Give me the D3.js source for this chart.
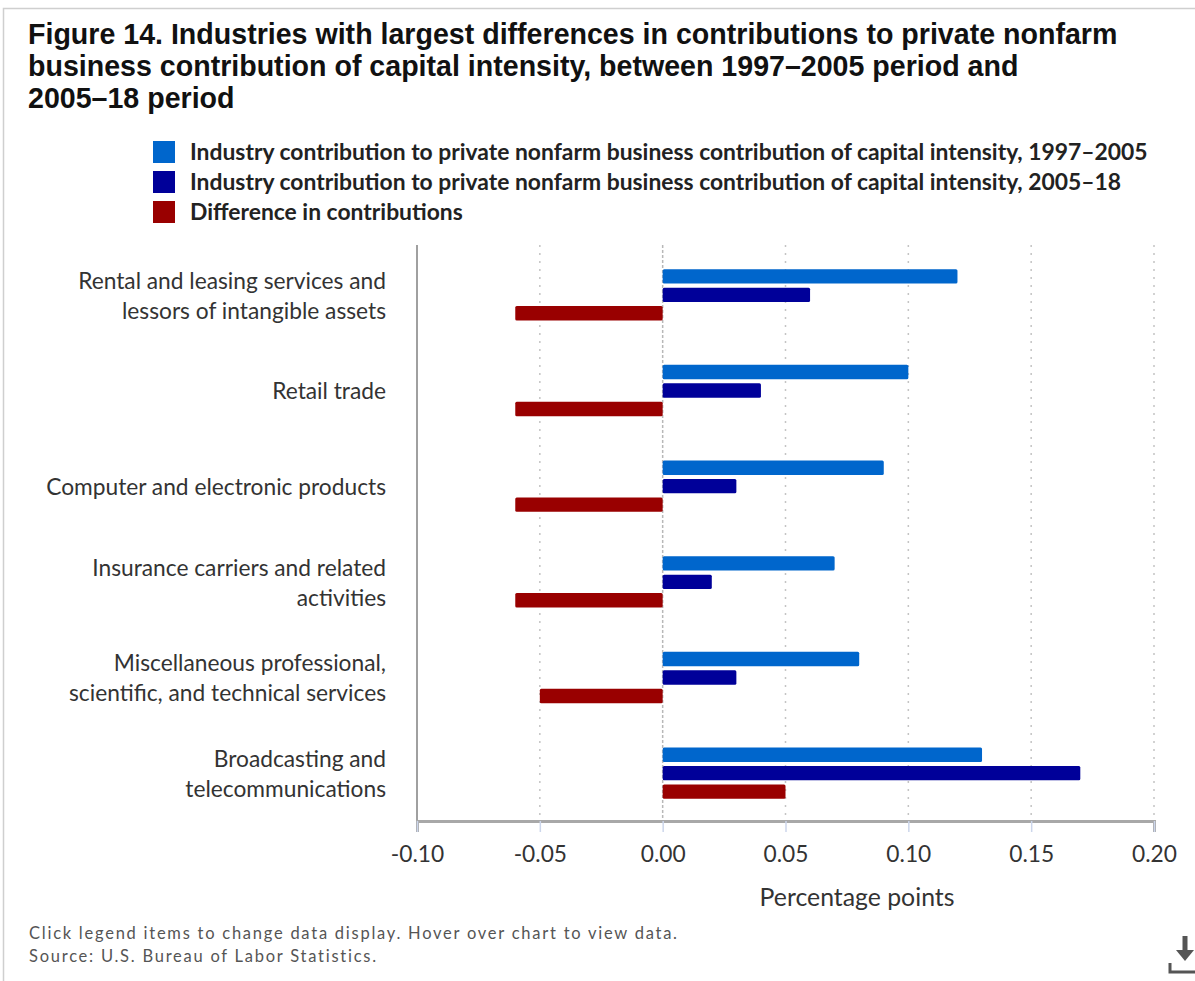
<!DOCTYPE html>
<html>
<head>
<meta charset="utf-8">
<script src="https://cdn.jsdelivr.net/npm/d3@7"></script>
<style>
  html, body { margin: 0; padding: 0; background: #fff; }
  svg { display: block; }
</style>
</head>
<body>
<svg id="chart" width="1195" height="981"></svg>
<script>
// ---------- DATA ----------
const titleLines = [
  "Figure 14. Industries with largest differences in contributions to private nonfarm",
  "business contribution of capital intensity, between 1997\u20132005 period and",
  "2005\u201318 period"
];
const categories = [
  "Rental and leasing services and lessors of intangible assets",
  "Retail trade",
  "Computer and electronic products",
  "Insurance carriers and related activities",
  "Miscellaneous professional, scientific, and technical services",
  "Broadcasting and telecommunications"
];
const categoryLabelLines = [
  ["Rental and leasing services and", "lessors of intangible assets"],
  ["Retail trade"],
  ["Computer and electronic products"],
  ["Insurance carriers and related", "activities"],
  ["Miscellaneous professional,", "scientific, and technical services"],
  ["Broadcasting and", "telecommunications"]
];
const seriesNames = [
  "Industry contribution to private nonfarm business contribution of capital intensity, 1997\u20132005",
  "Industry contribution to private nonfarm business contribution of capital intensity, 2005\u201318",
  "Difference in contributions"
];
const values1997_2005 = [0.12, 0.10, 0.09, 0.07, 0.08, 0.13];
const values2005_18   = [0.06, 0.04, 0.03, 0.02, 0.03, 0.17];
const valuesDiff      = [-0.06, -0.06, -0.06, -0.06, -0.05, 0.05];
const seriesColors = ["#0066cc", "#000099", "#990000"];
const xTicks = [-0.10, -0.05, 0.00, 0.05, 0.10, 0.15, 0.20];
const xAxisTitle = "Percentage points";
const footerLines = [
  "Click legend items to change data display. Hover over chart to view data.",
  "Source: U.S. Bureau of Labor Statistics."
];

// ---------- SETUP ----------
const svg = d3.select("#chart");
const SANS = "'Liberation Sans', Arial, sans-serif";
const BODY = "Lato, 'Open Sans', sans-serif";

function measure(textStr, family, weight, size) {
  const t = svg.append("text").attr("font-family", family).attr("font-weight", weight)
    .attr("font-size", size).text(textStr);
  const w = t.node().getComputedTextLength();
  t.remove();
  return w;
}
function fitSize(textStr, family, weight, baseSize, target) {
  return baseSize * target / measure(textStr, family, weight, baseSize);
}

// outer border
svg.append("rect").attr("x", 3.5).attr("y", 8.5).attr("width", 1300).attr("height", 1100)
  .attr("fill", "none").attr("stroke", "#cfcfcf").attr("stroke-width", 1.5);

// title
const titleSize = fitSize(titleLines[0], SANS, "bold", 24, 1090);
svg.append("g").selectAll("text").data(titleLines).join("text")
  .attr("x", 28).attr("y", (d, i) => 44 + i * 32)
  .attr("font-family", SANS).attr("font-weight", "bold").attr("font-size", titleSize)
  .attr("fill", "#111").text(d => d);

// legend
const legendSize = fitSize(seriesNames[0], BODY, "bold", 18, 958);
const legend = svg.append("g");
const legendRows = [152, 182, 212];
legend.selectAll("rect").data(seriesNames).join("rect")
  .attr("x", 153).attr("y", (d, i) => legendRows[i] - 11).attr("width", 22).attr("height", 22)
  .attr("fill", (d, i) => seriesColors[i]);
legend.selectAll("text").data(seriesNames).join("text")
  .attr("x", 190).attr("y", (d, i) => legendRows[i]).attr("dy", "0.35em")
  .attr("font-family", BODY).attr("font-weight", "bold").attr("font-size", legendSize)
  .attr("fill", "#222").text(d => d);

// scales
const plotLeft = 417, plotRight = 1154, plotTop = 245, plotBottom = 821;
const x = d3.scaleLinear().domain([-0.10, 0.20]).range([plotLeft, plotRight]);
const y0 = d3.scaleBand().domain(categories).range([247, plotBottom]).padding(0);
const y1 = d3.scaleBand().domain(seriesNames).range([0, y0.bandwidth()])
  .paddingInner(0.22).paddingOuter(1.2);

// gridlines
svg.append("g").selectAll("line").data(xTicks.filter(t => t > -0.10)).join("line")
  .attr("x1", d => x(d)).attr("x2", d => x(d))
  .attr("y1", plotTop).attr("y2", plotBottom)
  .attr("stroke", (d) => d === 0 ? "#b8b8b8" : "#c4c4c4")
  .attr("stroke-width", 1.5)
  .attr("stroke-dasharray", d => d === 0 ? "3,2" : "2,6");

// bars
const seriesData = [values1997_2005, values2005_18, valuesDiff];
const barsG = svg.append("g");
seriesData.forEach((vals, si) => {
  barsG.append("g").selectAll("rect").data(vals).join("rect")
    .attr("x", d => x(Math.min(0, d)))
    .attr("width", d => Math.abs(x(d) - x(0)))
    .attr("y", (d, i) => y0(categories[i]) + y1(seriesNames[si]))
    .attr("height", y1.bandwidth())
    .attr("rx", 1.5)
    .attr("fill", seriesColors[si]);
});

// axes lines
svg.append("line").attr("x1", plotLeft).attr("x2", plotLeft)
  .attr("y1", plotTop).attr("y2", plotBottom)
  .attr("stroke", "#a0a0a0").attr("stroke-width", 2);

const xAxis = d3.axisBottom(x).tickValues(xTicks).tickFormat(d3.format(".2f"))
  .tickSize(11).tickPadding(14);
const labelSize = fitSize(categoryLabelLines[0][0], BODY, "normal", 18, 308);
const gx = svg.append("g").attr("transform", `translate(0,${plotBottom})`).call(xAxis);
gx.select(".domain").attr("stroke", "#a8a8a8").attr("stroke-width", 3);
gx.selectAll(".tick line").attr("stroke", "#ccd6eb").attr("stroke-width", 1.5);
gx.selectAll(".tick text").attr("font-family", BODY).attr("font-size", labelSize)
  .attr("fill", "#333")
  .text(d => d3.format(".2f")(d).replace("\u2212", "-"));

// x axis title
const axTitleSize = fitSize(xAxisTitle, BODY, "normal", 18, 195);
svg.append("text").attr("x", 857).attr("y", 897).attr("dy", "0.35em")
  .attr("text-anchor", "middle").attr("font-family", BODY).attr("font-size", axTitleSize)
  .attr("fill", "#333").text(xAxisTitle);

// category labels
const catG = svg.append("g");
categories.forEach((c, i) => {
  const lines = categoryLabelLines[i];
  const cy = y0(c) + y0.bandwidth() / 2 + 1;
  const lh = 30;
  const t = catG.append("text").attr("text-anchor", "end")
    .attr("font-family", BODY).attr("font-size", labelSize).attr("fill", "#333");
  lines.forEach((ln, j) => {
    t.append("tspan").attr("x", 386)
      .attr("y", cy + (j - (lines.length - 1) / 2) * lh)
      .attr("dy", "0.35em").text(ln);
  });
});

// footer
const footSize = 16.5;
const footW = measure(footerLines[0], BODY, "normal", footSize);
const footSpacing = Math.max(0, (648 - footW) / (footerLines[0].length - 1));
svg.append("g").selectAll("text").data(footerLines).join("text")
  .attr("x", 29).attr("y", (d, i) => 933 + i * 23).attr("dy", "0.35em")
  .attr("font-family", BODY).attr("font-size", footSize).attr("fill", "#555")
  .attr("letter-spacing", footSpacing)
  .text(d => d);

// download icon
const icon = svg.append("g").attr("fill", "#555").attr("stroke", "#555");
icon.append("line").attr("x1", 1185).attr("x2", 1185).attr("y1", 936).attr("y2", 952)
  .attr("stroke-width", 5);
icon.append("path").attr("d", "M1176,950 L1194,950 L1185,961 Z").attr("stroke", "none");
icon.append("path").attr("d", "M1170,963 L1170,972 L1196,972")
  .attr("fill", "none").attr("stroke-width", 3);
</script>
</body>
</html>
